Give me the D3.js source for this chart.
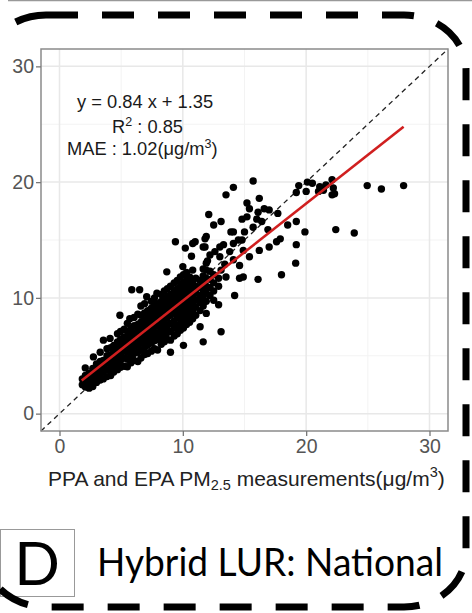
<!DOCTYPE html>
<html>
<head>
<meta charset="utf-8">
<script src="https://cdn.jsdelivr.net/npm/d3@7"></script>
<style>
  body { margin: 0; background: #fff; overflow: hidden; }
  svg { display: block; }
</style>
</head>
<body>
<div id="chart"></div>
<script>
// Axis ticks
var xTicks = [0, 10, 20, 30];
var yTicks = [0, 10, 20, 30];
var minorTicks = [5, 15, 25];

// Fitted line (y = 0.84 x + 1.35) drawn over the data range
var fitSlope = 0.84;
var fitIntercept = 1.35;
var fitRange = [1.8, 27.9];

// Dense cloud of points near the fit line
var cloudPts = [
	[1.85,2.5],[1.85,3.0],
	[2.1,2.3],[2.1,2.8],[2.1,3.3],[2.09,3.95],
	[2.4,2.6],[2.4,3.1],[2.4,3.5],[2.4,2.2],
	[2.7,2.35],[2.7,2.9],[2.7,3.4],[2.7,3.9],[2.75,4.9],
	[3.0,2.7],[3.0,3.2],[3.0,3.7],[3.0,4.3],
	[3.3,2.9],[3.3,3.35],[3.3,3.9],[3.3,4.5],[3.3,5.3],
	[3.55,3.0],[3.55,3.6],[3.55,4.1],[3.55,4.6],[3.56,6.35],
	[3.85,3.2],[3.85,3.8],[3.85,4.4],[3.85,5.0],[3.85,5.6],
	[4.15,3.3],[4.15,3.9],[4.15,4.5],[4.15,5.1],[4.15,5.7],[4.1,6.5],
	[4.4,3.6],[4.4,4.2],[4.4,4.8],[4.4,5.3],[4.4,5.9],
	[4.7,3.8],[4.7,4.4],[4.7,5.0],[4.7,5.5],[4.7,6.2],[4.7,6.9],
	[4.95,4.0],[4.95,4.6],[4.95,5.2],[4.95,5.8],[4.95,6.4],[4.95,7.1],[4.9,8.5],
	[5.25,4.1],[5.25,4.8],[5.25,5.4],[5.25,6.0],[5.25,6.6],[5.25,7.3],
	[5.5,4.05],[5.5,4.7],[5.5,5.3],[5.5,5.9],[5.5,6.5],[5.5,7.1],[5.5,7.8],
	[5.8,4.4],[5.8,5.0],[5.8,5.6],[5.8,6.2],[5.8,6.8],[5.8,7.4],[5.7,8.2],
	[6.05,4.6],[6.05,5.2],[6.05,5.8],[6.05,6.4],[6.05,7.0],[6.05,7.6],[6.05,8.3],[5.86,10.7],
	[6.35,4.5],[6.35,5.3],[6.35,5.9],[6.35,6.5],[6.35,7.1],[6.35,7.7],[6.35,8.6],[6.5,10.7],
	[6.6,4.8],[6.6,5.5],[6.6,6.1],[6.6,6.7],[6.6,7.3],[6.6,7.9],[6.6,8.5],[6.6,9.3],
	[6.9,5.1],[6.9,5.7],[6.9,6.3],[6.9,6.9],[6.9,7.5],[6.9,8.1],[6.9,8.7],[6.9,9.5],
	[7.15,5.2],[7.15,5.9],[7.15,6.5],[7.15,7.1],[7.15,7.7],[7.15,8.3],[7.15,8.9],[7.07,10.1],
	[7.45,5.4],[7.45,6.1],[7.45,6.7],[7.45,7.3],[7.45,7.9],[7.45,8.5],[7.45,9.1],[7.45,9.7],
	[7.7,5.6],[7.7,6.3],[7.7,6.9],[7.7,7.5],[7.7,8.1],[7.7,8.7],[7.7,9.3],[7.7,10.0],
	[7.95,5.5],[7.95,6.4],[7.95,7.0],[7.95,7.6],[7.95,8.3],[7.95,8.9],[7.95,9.5],[7.9,10.4],
	[8.25,6.0],[8.25,6.6],[8.25,7.2],[8.25,7.8],[8.25,8.5],[8.25,9.1],[8.25,9.7],[8.25,10.3],
	[8.5,6.2],[8.5,6.8],[8.5,7.4],[8.5,8.0],[8.5,8.7],[8.5,9.3],[8.5,9.9],[8.5,10.6],
	[8.75,6.4],[8.75,7.0],[8.75,7.6],[8.75,8.3],[8.75,8.9],[8.75,9.5],[8.75,10.1],[8.75,10.8],[8.7,12.25],
	[9.0,6.35],[9.0,7.1],[9.0,7.8],[9.0,8.5],[9.0,9.1],[9.0,9.7],[9.0,10.3],[9.0,11.0],[9.0,5.3],
	[9.3,6.7],[9.3,7.4],[9.3,8.0],[9.3,8.7],[9.3,9.3],[9.3,9.9],[9.3,10.6],[9.3,11.3],
	[9.55,6.9],[9.55,7.6],[9.55,8.3],[9.55,8.9],[9.55,9.5],[9.55,10.2],[9.55,10.8],[9.55,11.5],
	[9.8,7.2],[9.8,7.8],[9.8,8.5],[9.8,9.1],[9.8,9.8],[9.8,10.4],[9.8,11.0],[9.8,11.8],
	[10.05,5.9],[10.05,7.4],[10.05,8.1],[10.05,8.7],[10.05,9.4],[10.05,10.0],[10.05,10.6],[10.05,11.3],[10.05,12.0],[10.0,12.7],
	[10.3,7.7],[10.3,8.3],[10.3,9.0],[10.3,9.6],[10.3,10.2],[10.3,10.9],[10.3,11.5],[10.3,12.2],
	[10.55,7.9],[10.55,8.6],[10.55,9.2],[10.55,9.9],[10.55,10.5],[10.55,11.1],[10.55,11.8],
	[10.8,8.2],[10.8,8.9],[10.8,9.5],[10.8,10.1],[10.8,10.7],[10.8,11.4],[10.8,12.4],
	[11.05,8.5],[11.05,9.2],[11.05,9.8],[11.05,10.4],[11.05,11.0],[11.05,11.7],
	[11.4,7.5],[11.4,8.9],[11.4,9.6],[11.4,10.2],[11.4,10.9],[11.4,11.5],
	[11.65,6.2],[11.65,9.3],[11.65,10.0],[11.65,10.6],[11.65,11.2],[11.65,11.9],[11.65,12.5],
	[11.9,8.66],[11.9,9.7],[11.9,10.4],[11.9,11.0],[11.9,11.7],[11.9,12.4],
	[12.2,10.2],[12.2,10.9],[12.2,11.6],[12.2,12.3],
	[12.5,9.8],[12.5,10.6],[12.5,11.3],[12.5,12.0],
	[12.9,9.4],[12.9,11.0],[12.9,11.7],[13.1,7.07]
];

// Sparser points further up the range
var spreadPts = [
	[9.4,14.85],[10.2,14.3],[10.8,14.7],[11.0,14.85],[11.65,14.4],[11.9,15.3],[12.2,13.7],[10.7,13.6],
	[13.0,14.4],[13.5,11.8],[13.9,15.7],[14.1,14.7],[14.8,15.0],[14.2,10.2],[14.6,11.7],
	[12.1,17.2],[12.5,16.3],[13.1,16.6],[13.3,14.6],[13.5,18.9],[14.1,19.55],[14.1,15.7],[14.1,13.3],
	[14.5,15.0],[14.6,12.8],[14.8,16.8],[14.9,14.1],[14.9,11.8],[15.0,15.7],[15.2,18.2],[15.4,17.7],
	[15.4,13.55],[15.7,16.1],[15.7,20.1],[16.1,17.4],[16.1,11.6],[16.2,18.6],[16.2,14.1],[16.4,16.6],
	[16.6,17.7],[16.9,15.9],[17.0,17.6],[17.0,14.4],[17.6,14.85],[17.7,17.3],[17.9,15.1],[18.0,12.0],
	[18.5,16.3],[19.2,16.6],[19.15,13.0],[19.2,14.6],[19.9,15.7],[11.8,15.1],[11.8,14.4],[13.0,13.55],
	[11.9,13.0],[15.2,17.0],[16.0,16.8],[13.8,14.0],[12.6,14.0],[13.4,12.9],[12.0,13.2],[13.1,12.4],
	[19.2,19.1],[19.4,19.7],[20.0,19.2],[20.1,20.0],[20.5,19.9],[21.0,19.2],[21.1,19.6],[21.6,19.75],
	[22.1,20.2],[22.2,19.5],[22.3,19.0],[22.1,18.9],[21.4,19.3],[22.4,15.9],[23.9,15.6],[24.95,19.7],
	[26.1,19.4],[27.9,19.7]
];

var margin = { left: 41, top: 49, right: 448, bottom: 431 };
var textFont = 'Liberation Sans, Arial, sans-serif';

var svg = d3.select('#chart')
	.append('svg')
	.attr('width', 472)
	.attr('height', 613);

var x = d3.scaleLinear().domain([-1.5, 31.5]).range([margin.left, margin.right]);
var y = d3.scaleLinear().domain([-1.5, 31.5]).range([margin.bottom, margin.top]);

// thin gray rule along the very top
svg.append('line')
	.attr('x1', 8).attr('x2', 472).attr('y1', 0.5).attr('y2', 0.5)
	.attr('stroke', '#999').attr('stroke-width', 1.5);

// Panel grid
var grid = svg.append('g');
grid.selectAll('.minorx').data(minorTicks).enter().append('line')
	.attr('x1', d => x(d)).attr('x2', d => x(d))
	.attr('y1', margin.top).attr('y2', margin.bottom)
	.attr('stroke', '#f3f3f3').attr('stroke-width', 1);
grid.selectAll('.minory').data(minorTicks).enter().append('line')
	.attr('y1', d => y(d)).attr('y2', d => y(d))
	.attr('x1', margin.left).attr('x2', margin.right)
	.attr('stroke', '#f3f3f3').attr('stroke-width', 1);
grid.selectAll('.majorx').data(xTicks).enter().append('line')
	.attr('x1', d => x(d)).attr('x2', d => x(d))
	.attr('y1', margin.top).attr('y2', margin.bottom)
	.attr('stroke', '#e8e8e8').attr('stroke-width', 1.5);
grid.selectAll('.majory').data(yTicks).enter().append('line')
	.attr('y1', d => y(d)).attr('y2', d => y(d))
	.attr('x1', margin.left).attr('x2', margin.right)
	.attr('stroke', '#e8e8e8').attr('stroke-width', 1.5);

// 1:1 dashed line
svg.append('line')
	.attr('x1', x(-1.5)).attr('y1', y(-1.5))
	.attr('x2', x(31.5)).attr('y2', y(31.5))
	.attr('stroke', '#222').attr('stroke-width', 1.3)
	.attr('stroke-dasharray', '5,4');

// Points
var allPts = cloudPts.concat(spreadPts);
svg.append('g').selectAll('circle')
	.data(allPts)
	.enter()
	.append('circle')
	.attr('cx', d => x(d[0]))
	.attr('cy', d => y(d[1]))
	.attr('r', 3.7)
	.attr('fill', '#000');

// Fit line
svg.append('line')
	.attr('x1', x(fitRange[0])).attr('y1', y(fitSlope * fitRange[0] + fitIntercept))
	.attr('x2', x(fitRange[1])).attr('y2', y(fitSlope * fitRange[1] + fitIntercept))
	.attr('stroke', '#d01f1f').attr('stroke-width', 2.6);

// Panel border
svg.append('rect')
	.attr('x', margin.left).attr('y', margin.top)
	.attr('width', margin.right - margin.left)
	.attr('height', margin.bottom - margin.top)
	.attr('fill', 'none').attr('stroke', '#8a8a8a').attr('stroke-width', 1.5);

// Axes
var yAxis = svg.append('g')
	.attr('transform', 'translate(' + margin.left + ',0)')
	.call(d3.axisLeft(y).tickValues(yTicks).tickSize(5).tickPadding(2));
var xAxis = svg.append('g')
	.attr('transform', 'translate(0,' + margin.bottom + ')')
	.call(d3.axisBottom(x).tickValues(xTicks).tickSize(5).tickPadding(3));
[xAxis, yAxis].forEach(function(a) {
	a.select('.domain').remove();
	a.selectAll('line').attr('stroke', '#777').attr('stroke-width', 1.3);
	a.selectAll('text')
		.attr('fill', '#555')
		.attr('font-family', textFont)
		.attr('font-size', '19.5px');
});

// X title
var xt = svg.append('text')
	.attr('x', 48).attr('y', 486)
	.attr('font-family', textFont)
	.attr('font-size', '21px')
	.attr('fill', '#222');
xt.append('tspan').text('PPA and EPA PM');
xt.append('tspan').attr('font-size', '14.5px').attr('dy', 4).text('2.5');
xt.append('tspan').attr('dy', -4).text(' measurements(μg/m');
xt.append('tspan').attr('font-size', '14.5px').attr('dy', -9).text('3');
xt.append('tspan').attr('dy', 9).text(')');

// Stats annotation
svg.append('text')
	.attr('x', 77).attr('y', 108)
	.attr('font-family', textFont).attr('font-size', '18.3px').attr('fill', '#1a1a1a')
	.text('y = 0.84 x + 1.35');
var r2 = svg.append('text')
	.attr('x', 112).attr('y', 133)
	.attr('font-family', textFont).attr('font-size', '18.3px').attr('fill', '#1a1a1a');
r2.append('tspan').text('R');
r2.append('tspan').attr('font-size', '12.5px').attr('dy', -7).text('2');
r2.append('tspan').attr('dy', 7).text(' : 0.85');
var mae = svg.append('text')
	.attr('x', 67).attr('y', 155)
	.attr('font-family', textFont).attr('font-size', '18.3px').attr('fill', '#1a1a1a');
mae.append('tspan').text('MAE : 1.02(μg/m');
mae.append('tspan').attr('font-size', '12.5px').attr('dy', -7).text('3');
mae.append('tspan').attr('dy', 7).text(')');

// Panel letter box
svg.append('rect')
	.attr('x', 0.5).attr('y', 529.5).attr('width', 74).attr('height', 67)
	.attr('fill', '#fff').attr('stroke', '#999').attr('stroke-width', 1);
svg.append('text')
	.attr('x', 37).attr('y', 585)
	.attr('text-anchor', 'middle')
	.attr('font-family', 'Lato, Open Sans, sans-serif')
	.attr('font-size', '60px').attr('fill', '#000')
	.text('D');
svg.append('text')
	.attr('x', 97).attr('y', 576)
	.attr('font-family', 'Lato, Open Sans, sans-serif')
	.attr('font-size', '38px').attr('fill', '#000')
	.attr('textLength', 346).attr('lengthAdjust', 'spacingAndGlyphs')
	.text('Hybrid LUR: National');

// Dashed rounded frame (left side sits outside the picture)
svg.append('rect')
	.attr('x', -16).attr('y', 15).attr('width', 482).attr('height', 592)
	.attr('rx', 62).attr('ry', 55)
	.attr('fill', 'none').attr('stroke', '#000').attr('stroke-width', 7)
	.attr('stroke-dasharray', '32,24');
</script>
</body>
</html>
